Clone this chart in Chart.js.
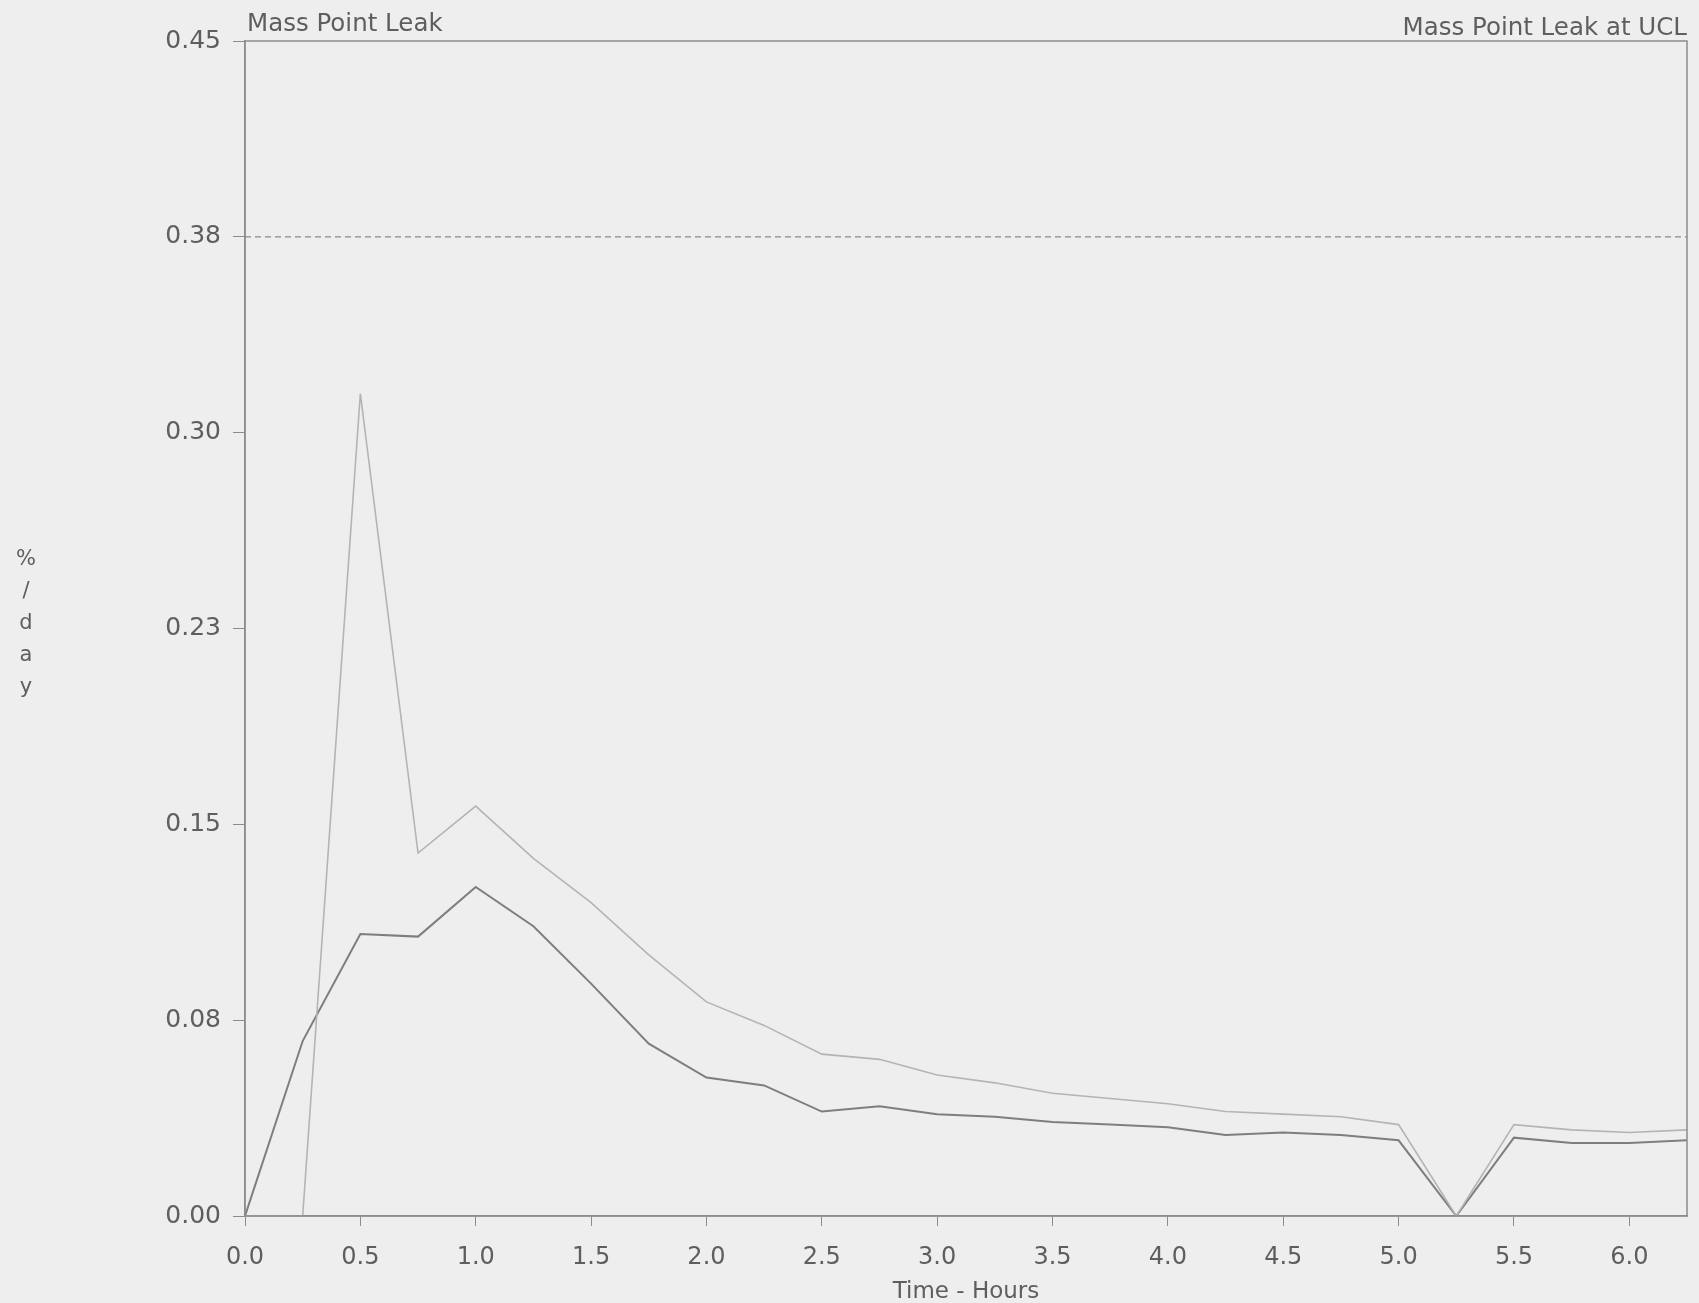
<!DOCTYPE html>
<html>
<head>
<meta charset="utf-8">
<script src="https://cdn.jsdelivr.net/npm/chart.js@4.4.1/dist/chart.umd.min.js"></script>
<style>
  html, body { margin: 0; padding: 0; background: #eeeeee; }
  #wrap { width: 1699px; height: 1303px; }
</style>
</head>
<body>
<div id="wrap"><canvas id="leakChart" width="1699" height="1303"></canvas></div>
<script>
/* ---- data (hours vs %/day) ---- */
const hours = [0.0, 0.25, 0.5, 0.75, 1.0, 1.25, 1.5, 1.75, 2.0, 2.25, 2.5, 2.75, 3.0,
               3.25, 3.5, 3.75, 4.0, 4.25, 4.5, 4.75, 5.0, 5.25, 5.5, 5.75, 6.0, 6.25];

const massPointLeak = [0.000, 0.067, 0.108, 0.107, 0.126, 0.111, 0.089, 0.066, 0.053, 0.050,
                       0.040, 0.042, 0.039, 0.038, 0.036, 0.035, 0.034, 0.031, 0.032, 0.031,
                       0.029, 0.000, 0.030, 0.028, 0.028, 0.029];

const massPointLeakUCL = [0.000, 0.000, 0.315, 0.139, 0.157, 0.137, 0.120, 0.100, 0.082, 0.073,
                          0.062, 0.060, 0.054, 0.051, 0.047, 0.045, 0.043, 0.040, 0.039, 0.038,
                          0.035, 0.000, 0.035, 0.033, 0.032, 0.033];

const limitValue = 0.375;

const xTicks = [0.0, 0.5, 1.0, 1.5, 2.0, 2.5, 3.0, 3.5, 4.0, 4.5, 5.0, 5.5, 6.0];
const yTicks = [0, 0.075, 0.15, 0.225, 0.30, 0.375, 0.45];
const yTickLabels = ["0.00", "0.08", "0.15", "0.23", "0.30", "0.38", "0.45"];

const FONT = "'DejaVu Sans', sans-serif";
const TEXT = "#5e5e5e";
const AXIS = "#8c8c8c";

function toPoints(xs, ys) {
    return xs.map((x, i) => ({ x: x, y: ys[i] }));
}

/* frame + corner titles + stacked y label */
const framePlugin = {
    id: "frame",
    beforeDraw(chart) {
        const c = chart.ctx;
        c.save();
        c.fillStyle = "#eeeeee";
        c.fillRect(0, 0, chart.width, chart.height);
        c.restore();
    },
    afterDraw(chart) {
        const a = chart.chartArea;
        const c = chart.ctx;
        c.save();
        c.strokeStyle = AXIS;
        c.lineWidth = 1.5;
        c.strokeRect(a.left, a.top, a.right - a.left, a.bottom - a.top);

        c.fillStyle = TEXT;
        c.font = "24.5px " + FONT;
        c.textBaseline = "alphabetic";
        c.textAlign = "left";
        c.fillText("Mass Point Leak", a.left + 2, 31);
        c.textAlign = "right";
        c.fillText("Mass Point Leak at UCL", a.right, 35);

        c.font = "21px " + FONT;
        c.textAlign = "center";
        c.textBaseline = "middle";
        ["%", "/", "d", "a", "y"].forEach((ch, i) => {
            c.fillText(ch, 26, 560 + i * 32);
        });
        c.restore();
    }
};

const ctx = document.getElementById("leakChart").getContext("2d");
new Chart(ctx, {
    type: "line",
    data: {
        datasets: [
            {
                label: "Mass Point Leak at UCL",
                data: toPoints(hours, massPointLeakUCL),
                borderColor: "#b4b4b4",
                borderWidth: 1.6,
                pointRadius: 0,
                tension: 0
            },
            {
                label: "Mass Point Leak",
                data: toPoints(hours, massPointLeak),
                borderColor: "#7e7e7e",
                borderWidth: 2,
                pointRadius: 0,
                tension: 0
            },
            {
                label: "UCL limit",
                data: [{ x: hours[0], y: limitValue }, { x: hours[hours.length - 1], y: limitValue }],
                borderColor: "#8a8a8a",
                borderWidth: 1.2,
                borderDash: [6, 4],
                pointRadius: 0
            }
        ]
    },
    options: {
        responsive: false,
        animation: false,
        layout: { padding: { top: 41, right: 12, left: 0, bottom: 0 } },
        plugins: {
            legend: { display: false },
            tooltip: { enabled: false }
        },
        scales: {
            x: {
                type: "linear",
                min: 0,
                max: 6.25,
                afterBuildTicks: s => { s.ticks = xTicks.map(v => ({ value: v })); },
                afterFit: s => { s.height = 87; },
                ticks: {
                    color: TEXT,
                    font: { family: FONT, size: 24 },
                    padding: 17,
                    maxRotation: 0,
                    callback: v => v.toFixed(1)
                },
                grid: { drawOnChartArea: false, drawTicks: true, tickLength: 10, color: AXIS },
                border: { color: AXIS, width: 1.5 },
                title: {
                    display: true,
                    text: "Time - Hours",
                    color: TEXT,
                    font: { family: FONT, size: 23 },
                    padding: { top: 0, bottom: -3 }
                }
            },
            y: {
                min: 0,
                max: 0.45,
                afterBuildTicks: s => { s.ticks = yTicks.map(v => ({ value: v })); },
                afterFit: s => { s.width = 245; },
                ticks: {
                    color: TEXT,
                    font: { family: FONT, size: 25 },
                    padding: 12,
                    callback: (v, i) => yTickLabels[i]
                },
                grid: { drawOnChartArea: false, drawTicks: true, tickLength: 12, color: AXIS },
                border: { color: AXIS, width: 1.5 }
            }
        }
    },
    plugins: [framePlugin]
});
</script>
</body>
</html>
